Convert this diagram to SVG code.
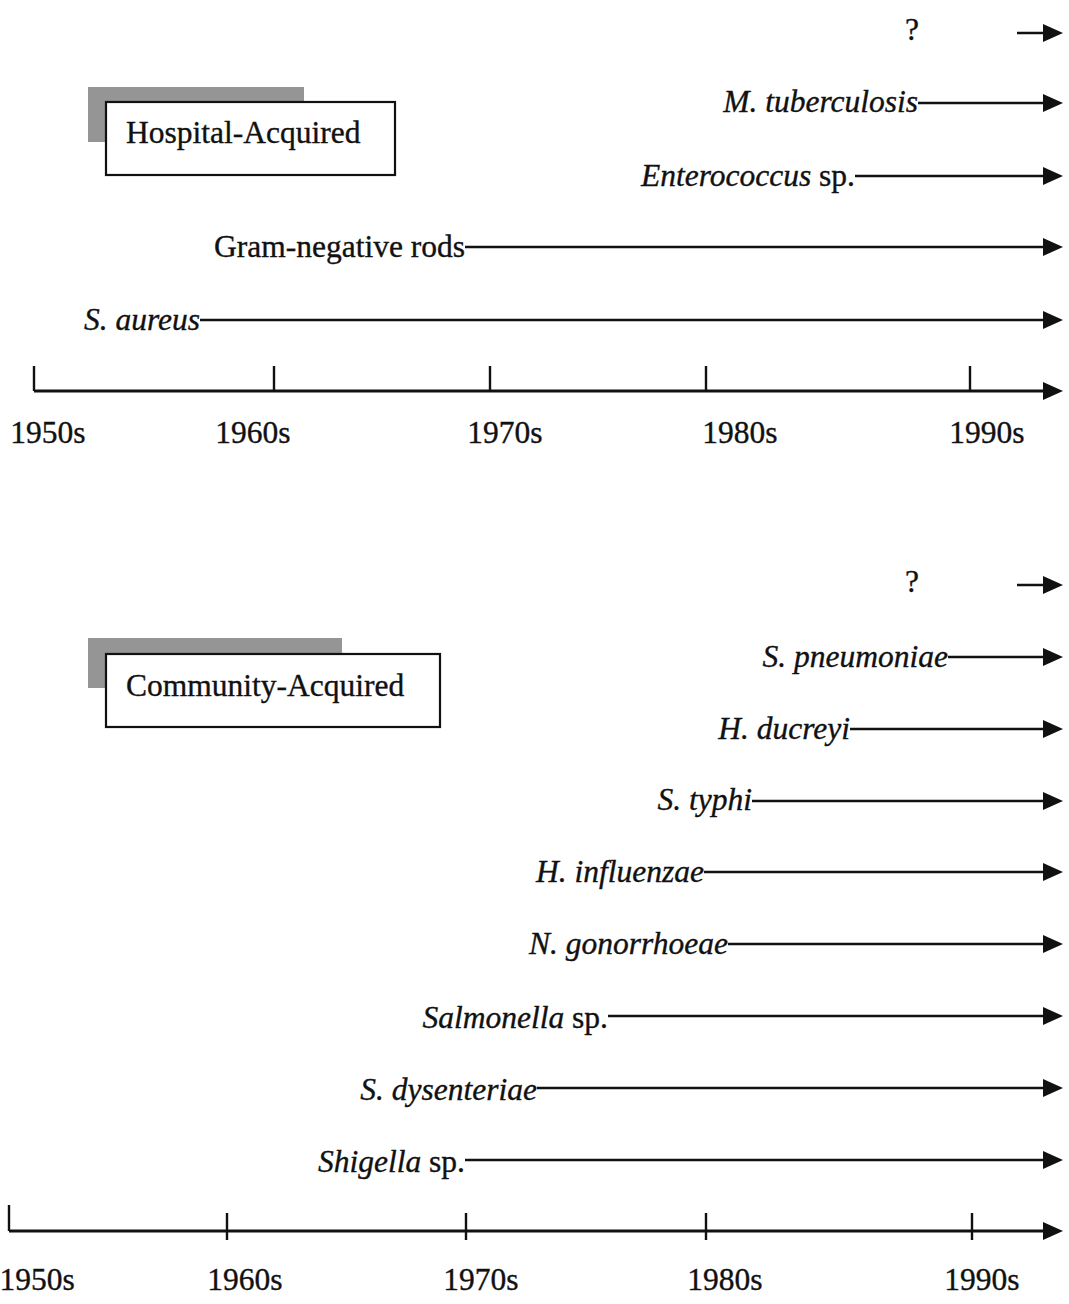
<svg xmlns="http://www.w3.org/2000/svg" xmlns:xlink="http://www.w3.org/1999/xlink" width="1069" height="1304" viewBox="0 0 1069 1304">
<style>
text{font-family:"Liberation Serif","Times New Roman",serif;font-size:31.5px;fill:#111;stroke:#111;stroke-width:0.35}
.i{font-style:italic}
.ln{stroke:#111;stroke-width:2.4;fill:none}
.ax{stroke:#111;stroke-width:2.8;fill:none}
.shadow{fill:#959595}
.box{fill:#fff;stroke:#111;stroke-width:2.2}
.hd{fill:#111}
</style>
<defs>
<polygon id="head" points="-20,-9 0,0 -20,9"/>
</defs>
<rect width="1069" height="1304" fill="#fff"/>

<g id="hospital-title">
<rect class="shadow" x="88" y="87" width="216" height="55"/>
<rect class="box" x="106" y="102" width="289" height="73"/>
<text x="126" y="143">Hospital-Acquired</text>
</g>
<g id="community-title">
<rect class="shadow" x="88" y="638" width="254" height="50"/>
<rect class="box" x="106" y="654" width="334" height="73"/>
<text x="126" y="696">Community-Acquired</text>
</g>

<g id="top-labels">
<text x="912" y="40" text-anchor="middle">?</text>
<text x="918" y="112" text-anchor="end" class="i">M. tuberculosis</text>
<text x="855" y="186" text-anchor="end"><tspan class="i">Enterococcus</tspan> sp.</text>
<text x="465" y="257" text-anchor="end">Gram-negative rods</text>
<text x="200" y="330" text-anchor="end" class="i">S. aureus</text>
<text x="48" y="443" text-anchor="middle">1950s</text>
<text x="253" y="443" text-anchor="middle">1960s</text>
<text x="505" y="443" text-anchor="middle">1970s</text>
<text x="740" y="443" text-anchor="middle">1980s</text>
<text x="987" y="443" text-anchor="middle">1990s</text>
</g>

<g id="bottom-labels">
<text x="912" y="592" text-anchor="middle">?</text>
<text x="948" y="667" text-anchor="end" class="i">S. pneumoniae</text>
<text x="850" y="739" text-anchor="end" class="i">H. ducreyi</text>
<text x="752" y="810" text-anchor="end" class="i">S. typhi</text>
<text x="704" y="882" text-anchor="end" class="i">H. influenzae</text>
<text x="728" y="954" text-anchor="end" class="i">N. gonorrhoeae</text>
<text x="608" y="1028" text-anchor="end"><tspan class="i">Salmonella</tspan> sp.</text>
<text x="537" y="1100" text-anchor="end" class="i">S. dysenteriae</text>
<text x="465" y="1172" text-anchor="end"><tspan class="i">Shigella</tspan> sp.</text>
<text x="37" y="1290" text-anchor="middle">1950s</text>
<text x="245" y="1290" text-anchor="middle">1960s</text>
<text x="481" y="1290" text-anchor="middle">1970s</text>
<text x="725" y="1290" text-anchor="middle">1980s</text>
<text x="982" y="1290" text-anchor="middle">1990s</text>
</g>

<g id="connectors">
<path class="ln" d="M1017,33H1048M918,103H1048M855,176H1048M465,247H1048M200,320H1048"/>
<line class="ax" x1="34" y1="391" x2="1048" y2="391"/>
<path class="ln" d="M34,366V391M274,366V391M490,366V391M706,366V391M970,366V391"/>
<path class="ln" d="M1017,585H1048M948,657H1048M850,729H1048M752,801H1048M704,872H1048M728,944H1048M608,1016H1048M537,1088H1048M465,1160H1048"/>
<line class="ax" x1="9" y1="1231" x2="1048" y2="1231"/>
<path class="ln" d="M9,1205V1231M227,1213V1240M466,1213V1240M706,1213V1240M972,1213V1240"/>
<g class="hd">
<use xlink:href="#head" x="1063" y="33"/>
<use xlink:href="#head" x="1063" y="103"/>
<use xlink:href="#head" x="1063" y="176"/>
<use xlink:href="#head" x="1063" y="247"/>
<use xlink:href="#head" x="1063" y="320"/>
<use xlink:href="#head" x="1063" y="391"/>
<use xlink:href="#head" x="1063" y="585"/>
<use xlink:href="#head" x="1063" y="657"/>
<use xlink:href="#head" x="1063" y="729"/>
<use xlink:href="#head" x="1063" y="801"/>
<use xlink:href="#head" x="1063" y="872"/>
<use xlink:href="#head" x="1063" y="944"/>
<use xlink:href="#head" x="1063" y="1016"/>
<use xlink:href="#head" x="1063" y="1088"/>
<use xlink:href="#head" x="1063" y="1160"/>
<use xlink:href="#head" x="1063" y="1231"/>
</g>
</g>
</svg>
